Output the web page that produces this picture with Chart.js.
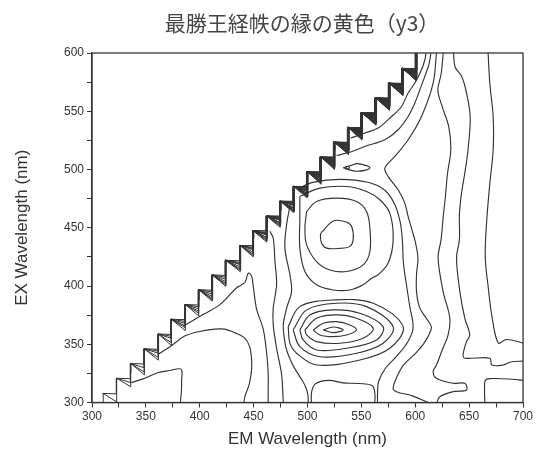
<!DOCTYPE html>
<html><head><meta charset="utf-8">
<script src="https://cdn.jsdelivr.net/npm/chart.js@4.4.1/dist/chart.umd.min.js"></script>
<style>html,body{margin:0;padding:0;background:#fff;}canvas{display:block;}</style>
</head><body>
<canvas id="c" width="538" height="455"></canvas>
<script>
// ---- data (EM nm, EX nm) ----
const titleText = '最勝王経帙の縁の黄色（y3）';
const xTitle = 'EM Wavelength (nm)';
const yTitle = 'EX Wavelength (nm)';
const xTickValues = [300, 350, 400, 450, 500, 550, 600, 650, 700];
const yTickValues = [300, 350, 400, 450, 500, 550, 600];

// staircase (scatter cut-off) tooth corners
const toothEM = [310, 322.5, 335.5, 348, 361, 373, 386, 398.5, 411, 423.5, 437, 449, 461.5, 474, 486.5, 499, 511.5, 524, 537, 549.5, 562.5, 575, 587.5, 600];
const toothEX = [308, 321, 333.7, 346.3, 359, 371.7, 384.3, 397, 409.7, 422.3, 435, 447.7, 460.3, 473, 485.7, 498.3, 511, 523.7, 536.3, 549, 561.7, 574.3, 587, 599.7];

// contour lines, left part
const lineA = [[336,317],[348,320.5],[361,325.5],[372,327.5],[381.6,329],[383.5,327],[383.2,320],[383,310],[382,300]];
const lineB = [[361,341],[374,349],[386,357],[400,361],[413.8,363],[423,363],[432.4,360],[441.6,355.5],[446.3,348],[448.1,337],[448.1,328],[446,316],[441.9,305],[441,300]];
const lineC = [[384.7,365.6],[400.2,374],[418.7,384],[434.2,398.5],[441.9,403],[445,411],[448.1,408.5],[449.6,400],[452.8,380],[458.9,363],[462,343],[463.5,325.5],[463.5,310],[463.5,300]];
const lineD = [[465,447],[468.2,441],[469.8,421],[471.3,401],[468.2,381],[468.2,366.6],[471.3,346.6],[476,323.6],[477.5,300]];
const lineE = [[484,470],[480.6,452.5],[479,432.5],[483.7,409.5],[485.2,395.2],[480.6,380.9],[477.5,366.6],[478.5,355],[480,347],[483,339],[487,331],[493,322],[498,314],[500.3,307],[500.7,300]];
const bottomCap = [[503.5,300],[504,310],[508,316.5],[520,319],[533,316.8],[548,316.3],[560,314.5],[562.5,308],[562.5,300]];
// contour lines, upper / right part
const lineX1 = [[490,483],[505,489],[530,491.5],[556,489],[572,482],[581,470],[586,455],[588,440],[589,420],[592,400],[595,382],[598,364],[593,352],[583,340],[572,329],[566,318],[565,308],[565,300]];
const lineW = [[619.7,600],[616.6,574.2],[605.8,545.5],[593.4,525.5],[581.1,511.2],[571.8,501.2],[574.9,493.9],[584.1,482.6],[590.3,471.1],[593.4,459.6],[597,448],[600,438],[602.5,424],[601.2,410],[601.2,395],[604.3,381],[612,370],[615,364],[609,352],[600,342],[589,332],[582,320],[579.5,312],[582.6,309.3],[598,305.5],[612,300]];
const lineS1 = [[540,527],[553.2,531.3],[565.6,535.6],[578,545.5],[587.3,554.1],[593.4,565.6],[599.6,574.2],[605.8,585.6],[608.9,594.2],[610,600]];
const lineS2 = [[527,512],[540,515],[553.2,519.8],[571.8,525.5],[584.1,534.1],[593.4,545.5],[599.6,557],[604.3,568.5],[608.9,579.9],[613,591.4],[614.5,600]];
const lineR3 = [[626,600],[624,582],[621,568],[625,554],[631,537],[633,517],[630,497],[628,477],[626,460],[624,440],[621.2,424],[625.9,395.2],[632.1,372.3],[630.5,358],[625,345],[619.7,332.2],[616.6,326.5],[619.7,320.8],[635,316.5],[646,316.5],[647.5,310.7],[635.2,309.3],[622.8,305],[620,300]];
const lineR2 = [[635.5,600],[637,588],[643,580],[647.5,566],[651,545],[649,517],[646,497],[643,480],[641,462],[641,440],[638.3,424],[641.4,395.2],[646,372.3],[650.6,358],[647.5,352.2],[644.4,340.8],[646,338],[669.2,338],[671,332.2],[681.5,332.2],[689.6,335],[700,335.5]];
const lineR6 = [[664.6,300],[664.3,312],[665,319],[669,320.5],[690,320],[700,319]];
const lineR1 = [[667.6,600],[669.2,574],[672.3,545.5],[672.3,517],[669.2,488],[666,452],[665,424],[667.6,400],[671,375],[677,351],[684,354],[692,353],[700,351]];

const eyeLens = [[533,501.5],[540,503.3],[546,505],[554,503.5],[558,501.5],[554,499.5],[546,498.5],[540,499.5],[533,501.5]];
const eyeDot = [[535,501.5],[537,502.6],[539,501.5],[537,500.4],[535,501.5]];

const upper1 = [[513,446],[524,455.8],[536,455],[541,451],[542.4,440],[539.3,434],[530,432.3],[517.7,432.5],[513,437],[512,444],[513,446]];
const upper2 = [[499.2,463.9],[508.4,472.5],[527,475.4],[545.5,472.5],[554.8,463.9],[557.9,449.7],[557.9,429.6],[551.7,418.1],[536.2,412.4],[520.8,413.8],[508.4,421],[499.2,435.3],[497.6,449.7],[499.2,463.9]];
const upper3 = [[492.9,476.8],[511.5,484],[536.2,485.4],[554.8,481.1],[567.1,474],[576.4,462.5],[579.5,439.6],[575,420],[566,410],[559.5,406.7],[551.7,401],[539.3,396.6],[523.8,396.6],[508.4,401],[497.6,412.4],[492.9,432.5],[492.9,458.2],[492.9,476.8]];

const lower1 = [[514.6,362.3],[523.8,364.8],[533.1,362.3],[523.8,360],[514.6,362.3]];
const lower2 = [[505.3,362.3],[514.6,368],[527,369.4],[539.3,366.6],[545.5,362.3],[536.2,358],[523.8,356.5],[511.5,358],[505.3,362.3]];
const lower3 = [[497.6,362.3],[508.4,372.3],[527,375.2],[545.5,372.3],[561,363.7],[551.7,355.2],[530,350.9],[508.4,352.3],[499.2,358],[497.6,362.3]];
const lower4 = [[492.9,362.3],[502.2,375.2],[523.8,379.5],[548.6,376.6],[570.2,365.1],[564.1,353.7],[536.2,346.6],[508.4,345.1],[496,353.7],[492.9,362.3]];
const lower5 = [[486.7,362.3],[499.2,379.5],[527,385.2],[554.8,382.3],[579.5,365.1],[570.2,350.9],[545.5,342.3],[511.5,339.3],[492.9,348],[486.7,362.3]];
const lower6 = [[482.1,365.1],[492.9,382.3],[523.8,388],[561,385.2],[588.8,365.1],[576.4,346.6],[548.6,336.5],[508.4,332.2],[489.9,342.3],[483.7,350.9],[482.1,365.1]];

// ---- build datasets ----
const LINE = '#333';
const datasets = [];
function addLine(pts, smooth, w) {
  datasets.push({data: pts, showLine: true, pointRadius: 0, borderColor: LINE, borderWidth: w || 1.15, tension: smooth ? 0.35 : 0, fill: false});
}
// staircase contour bundle: each line climbs the tooth bars and fans across the tooth
const fanDrop  = [0.6, 7.5, 3.8, 10, 2.2, 5.8, 9, 3, 6.6, 1.4, 8.3, 4.8, 11, 2.6, 9.6, 5.2, 0.9, 7, 4.2, 10.6, 1.8, 8.8, 0.3, 3.4, 6.2, 9.3, 1.1, 5.5, 7.8, 2.9];
const fanShift = [0, 0.4, 0.2, 0.6, 0.8, 0.3, 1.0, 0.5, 1.2, 0.7, 1.4, 0.9, 1.1, 0.35, 1.3, 0.15, 0.55, 1.5, 0.25, 0.85, 1.6, 0.45, 0.1, 0.95, 0.65, 1.25, 0.4, 1.05, 0.2, 0.75];
const fanStart = [0, 0, 1, 2, 3, 5, 7, 9, 11, 12, 13, 14, 15, 15, 16, 16, 17, 17, 18, 18, 19, 19, 10, 11, 12, 13, 14, 15, 16, 17];
for (let i = 0; i < fanDrop.length; i++) {
  const pts = [];
  const k0 = fanStart[i];
  pts.push([toothEM[k0] + fanShift[i], toothEX[k0] - Math.min(fanDrop[i], 9)]);
  for (let k = k0; k < toothEM.length - 1; k++) {
    pts.push([toothEM[k] + fanShift[i], toothEX[k] - 0.2]);
    pts.push([toothEM[k + 1] + fanShift[i], toothEX[k] - fanDrop[i]]);
  }
  const last = toothEM.length - 1;
  pts.push([toothEM[last] + fanShift[i], toothEX[last] + 5]);
  addLine(pts, false, 1);
}
[lineA, lineB, lineC, lineD, lineE, bottomCap, lineX1, lineW, lineS1, lineS2, lineR3, lineR2, lineR6, lineR1].forEach(l => addLine(l, true));
[eyeLens, eyeDot, upper1, upper2, upper3, lower1, lower2, lower3, lower4, lower5, lower6].forEach(l => addLine(l, true));

const framePlugin = {
  id: 'frame',
  afterDatasetsDraw(chart) {
    const {ctx, chartArea: a} = chart;
    ctx.save();
    ctx.strokeStyle = '#333';
    ctx.lineWidth = 1.3;
    ctx.strokeRect(a.left, a.top, a.right - a.left, a.bottom - a.top);
    ctx.restore();
  }
};
const titlePlugin = {
  id: 'ctitle',
  afterDraw(chart) {
    const ctx = chart.ctx;
    ctx.save();
    ctx.fillStyle = '#444';
    ctx.font = '21px "Noto Sans CJK JP"';
    ctx.textAlign = 'center';
    ctx.textBaseline = 'middle';
    ctx.fillText(titleText, 302, 23);
    ctx.restore();
  }
};

const tickFont = {family: '"Liberation Sans", Arial, sans-serif', size: 12};
new Chart(document.getElementById('c'), {
  type: 'scatter',
  data: {datasets},
  options: {
    responsive: false,
    animation: false,
    events: [],
    layout: {padding: {top: 53, right: 15, left: 0, bottom: 0}},
    plugins: {legend: {display: false}, tooltip: {enabled: false}, title: {display: false}},
    scales: {
      x: {
        type: 'linear', min: 300, max: 700,
        afterFit: s => { s.height = 52.5; },
        afterBuildTicks: s => { const t = []; for (let v = 300; v <= 700; v += 25) t.push({value: v}); s.ticks = t; },
        ticks: {autoSkip: false, maxRotation: 0, padding: 2, color: '#333', font: tickFont,
          callback: v => xTickValues.includes(v) ? String(v) : ''},
        grid: {drawOnChartArea: false, drawTicks: true, tickLength: 5, color: '#333', lineWidth: 1},
        border: {display: true, color: '#333', width: 1.3},
        title: {display: true, text: xTitle, color: '#333', font: {family: '"Liberation Sans", Arial, sans-serif', size: 17}, padding: {top: 0, bottom: 5}}
      },
      y: {
        type: 'linear', min: 300, max: 600,
        afterFit: s => { s.width = 92; },
        afterBuildTicks: s => { const t = []; for (let v = 300; v <= 600; v += 25) t.push({value: v}); s.ticks = t; },
        ticks: {autoSkip: false, padding: 3, color: '#333', font: tickFont,
          callback: v => yTickValues.includes(v) ? String(v) : ''},
        grid: {drawOnChartArea: false, drawTicks: true, tickLength: 5, color: '#333', lineWidth: 1},
        border: {display: true, color: '#333', width: 1.3},
        title: {display: true, text: yTitle, color: '#333', font: {family: '"Liberation Sans", Arial, sans-serif', size: 17}, padding: {top: 12, bottom: 0}}
      }
    }
  },
  plugins: [framePlugin, titlePlugin]
});
</script>
</body></html>
